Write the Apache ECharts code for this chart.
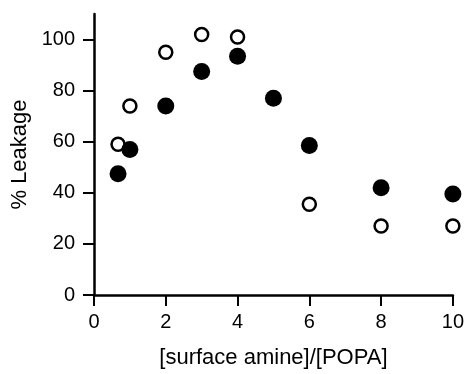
<!DOCTYPE html>
<html>
<head>
<meta charset="utf-8">
<script src="https://cdn.jsdelivr.net/npm/echarts@6/dist/echarts.min.js"></script>
<style>
  html, body { margin: 0; padding: 0; background: #fff; }
  #chart { width: 467px; height: 374px; }
</style>
</head>
<body>
<div id="chart"></div>
<script>
// amine/POPA ratio and % leakage
const ratioOpen = [0.67, 1, 2, 3, 4, 6, 8, 10];
const leakOpen = [59, 74, 95, 102, 101, 35.5, 27, 27];
const ratioFilled = [0.67, 1, 2, 3, 4, 5, 6, 8, 10];
const leakFilled = [47.5, 57, 74, 87.5, 93.5, 77, 58.5, 42, 39.5];
const yTicks = [0, 20, 40, 60, 80, 100];

const font = "Liberation Sans, Arial, Helvetica, sans-serif";

const chart = echarts.init(document.getElementById("chart"), null, { renderer: "canvas" });

const axisCommon = {
  axisLine: { show: true, onZero: false, lineStyle: { color: "#000", width: 2.5 } },
  axisTick: { show: true, inside: false, length: 11, lineStyle: { color: "#000", width: 2 } },
  splitLine: { show: false },
  nameLocation: "middle",
  nameTextStyle: { color: "#000", fontSize: 22, fontFamily: font },
};

chart.setOption({
  animation: false,
  backgroundColor: "#fff",
  grid: { left: 94, right: 10, top: 14, bottom: 79, containLabel: false },
  xAxis: {
    ...axisCommon,
    type: "value",
    min: 0,
    max: 10,
    interval: 2,
    name: "[surface amine]/[POPA]",
    nameGap: 52,
    axisLabel: { color: "#000", fontSize: 20, fontFamily: font, margin: 17 },
  },
  yAxis: {
    ...axisCommon,
    type: "value",
    min: 0,
    max: 110,
    name: "% Leakage",
    nameGap: 62,
    axisTick: { ...axisCommon.axisTick, customValues: yTicks },
    axisLabel: { color: "#000", fontSize: 20, fontFamily: font, margin: 19, customValues: yTicks },
  },
  series: [
    {
      name: "open",
      type: "scatter",
      data: ratioOpen.map((x, i) => [x, leakOpen[i]]),
      symbol: "circle",
      symbolSize: 13,
      itemStyle: { color: "#fff", borderColor: "#000", borderWidth: 2.5, opacity: 1 },
      z: 3,
    },
    {
      name: "filled",
      type: "scatter",
      data: ratioFilled.map((x, i) => [x, leakFilled[i]]),
      symbol: "circle",
      symbolSize: 17,
      itemStyle: { color: "#000", opacity: 1 },
      z: 4,
    },
  ],
});
</script>
</body>
</html>
